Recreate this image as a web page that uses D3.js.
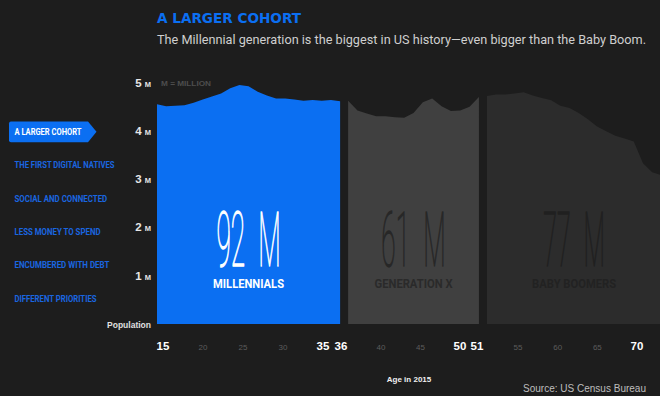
<!DOCTYPE html>
<html>
<head>
<meta charset="utf-8">
<script src="https://cdn.jsdelivr.net/npm/d3@7"></script>
<style>
    body { margin: 0; background: #1d1d1d; }
    svg { display: block; }
</style>
</head>
<body>
<div id="viz"></div>
<script>
// population by single year of age in 2015, millions
const millennials = [4.55, 4.51, 4.52, 4.53, 4.58, 4.65, 4.71, 4.77, 4.88, 4.95, 4.92,
    4.81, 4.73, 4.67, 4.67, 4.65, 4.62, 4.64, 4.62, 4.64, 4.61];          // 15-35
const genX = [4.62, 4.42, 4.36, 4.30, 4.30, 4.28, 4.27, 4.37, 4.59, 4.67, 4.51,
    4.41, 4.42, 4.50, 4.70];                                                // 36-50
const boomers = [4.72, 4.75, 4.75, 4.77, 4.80, 4.73, 4.68, 4.63, 4.52, 4.47,
    4.37, 4.24, 4.09, 3.99, 3.90, 3.84, 3.78, 3.33, 3.14, 3.08];            // 51-70
const firstAges = [15, 36, 51];
const genNames = ["MILLENNIALS", "GENERATION X", "BABY BOOMERS"];
const genTotals = ["92 M", "61 M", "77 M"];

const yTicks = [1, 2, 3, 4, 5];
const xTicks = [15, 20, 25, 30, 35, 36, 40, 45, 50, 51, 55, 60, 65, 70];
const boldTicks = [15, 35, 36, 50, 51, 70];

const navItems = ["A LARGER COHORT", "THE FIRST DIGITAL NATIVES", "SOCIAL AND CONNECTED",
    "LESS MONEY TO SPEND", "ENCUMBERED WITH DEBT", "DIFFERENT PRIORITIES"];

document.addEventListener("DOMContentLoaded", () => {
    const width = 660;
    const height = 396;

    const svg = d3.select('#viz').append('svg')
        .attr('width', width)
        .attr('height', height);

    const fills = ['#0b6ff2', '#404040', '#2c2c2c'];
    const totalColors = ['#ffffff', '#272727', '#202020'];
    const nameColors = ['#ffffff', '#2a2a2a', '#222222'];
    const totalScale = [0.345, 0.345, 0.33];
    const nameWidths = [71, 78, 84];

    const y = d3.scaleLinear().domain([0, 5]).range([324, 82.5]);

    // each age gets an equal slot, generations separated by a small gap
    const slot = 8.72, gap = 8;
    const slotX = d3.scaleLinear().domain([0, 1]).range([157, 157 + slot]);

    let cum = 0;
    const gens = [millennials, genX, boomers].map((values, i) => {
        const g = {
            name: genNames[i],
            total: genTotals[i],
            values: values.map((v, j) => ({ age: firstAges[i] + j, value: v }))
        };
        g.x0 = slotX(cum) + i * gap;
        cum += values.length;
        g.x1 = slotX(cum) + i * gap;
        g.x = d3.scaleLinear()
            .domain([firstAges[i], firstAges[i] + values.length - 1])
            .range([g.x0, g.x1]);
        return g;
    });

    // areas
    gens.forEach((g, i) => {
        const area = d3.area()
            .x(d => g.x(d.age))
            .y0(y(0))
            .y1(d => y(d.value));
        svg.append('path')
            .datum(g.values)
            .attr('d', area)
            .attr('fill', fills[i]);

        const cx = (g.x0 + g.x1) / 2;
        svg.append('text')
            .attr('transform', `translate(${cx},266) scale(${totalScale[i]},1)`)
            .attr('text-anchor', 'middle')
            .attr('font-family', 'Roboto, sans-serif')
            .attr('font-weight', 100)
            .attr('font-size', 76)
            .style('word-spacing', '20px')
            .attr('fill', totalColors[i])
            .attr('stroke', totalColors[i])
            .attr('stroke-width', 1)
            .attr('vector-effect', 'non-scaling-stroke')
            .text(g.total);

        svg.append('text')
            .attr('x', cx)
            .attr('y', 287.5)
            .attr('text-anchor', 'middle')
            .attr('font-family', '"Liberation Sans Narrow", Roboto, sans-serif')
            .attr('font-weight', 'bold')
            .attr('font-size', 12.5)
            .attr('fill', nameColors[i])
            .attr('textLength', nameWidths[i])
            .attr('lengthAdjust', 'spacingAndGlyphs')
            .text(g.name);
    });

    // y axis labels
    const yLabels = svg.selectAll('.ylab')
        .data(yTicks)
        .enter()
        .append('text')
        .attr('class', 'ylab')
        .attr('x', 151)
        .attr('y', d => y(d) + 4)
        .attr('text-anchor', 'end')
        .attr('font-family', '"Liberation Sans", Arial, sans-serif')
        .attr('font-weight', 'bold')
        .attr('fill', '#e6e6e6');
    yLabels.append('tspan').attr('font-size', 11.5).text(d => d);
    yLabels.append('tspan').attr('font-size', 7.5).attr('dx', 3).text('M');

    svg.append('text')
        .attr('x', 161)
        .attr('y', 86)
        .attr('font-family', '"Liberation Sans", Arial, sans-serif')
        .attr('font-weight', 'bold')
        .attr('font-size', 8)
        .attr('fill', '#4d4d4d')
        .attr('textLength', 50)
        .attr('lengthAdjust', 'spacingAndGlyphs')
        .text('M = MILLION');

    svg.append('text')
        .attr('x', 151)
        .attr('y', 327.5)
        .attr('text-anchor', 'end')
        .attr('font-family', '"Liberation Sans", Arial, sans-serif')
        .attr('font-weight', 'bold')
        .attr('font-size', 8.5)
        .attr('fill', '#e0e0e0')
        .attr('textLength', 44)
        .attr('lengthAdjust', 'spacingAndGlyphs')
        .text('Population');

    // x axis labels
    const tickX = d3.scaleLinear()
        .domain([15, 35, 36, 40, 50, 51, 55, 70])
        .range([163, 323, 341, 381, 460, 477, 518, 637]);

    svg.selectAll('.xlab')
        .data(xTicks)
        .enter()
        .append('text')
        .attr('class', 'xlab')
        .attr('x', d => tickX(d))
        .attr('y', 349.5)
        .attr('text-anchor', 'middle')
        .attr('font-family', '"Liberation Sans", Arial, sans-serif')
        .attr('font-weight', d => boldTicks.includes(d) ? 'bold' : 'normal')
        .attr('font-size', d => boldTicks.includes(d) ? 11.5 : 8)
        .attr('fill', d => boldTicks.includes(d) ? '#ffffff' : '#5c5c5c')
        .text(d => d);

    svg.append('text')
        .attr('x', 409)
        .attr('y', 381.5)
        .attr('text-anchor', 'middle')
        .attr('font-family', '"Liberation Sans", Arial, sans-serif')
        .attr('font-weight', 'bold')
        .attr('font-size', 8)
        .attr('fill', '#f0f0f0')
        .text('Age in 2015');

    svg.append('text')
        .attr('x', 646)
        .attr('y', 391.5)
        .attr('text-anchor', 'end')
        .attr('font-family', '"Liberation Sans", Arial, sans-serif')
        .attr('font-size', 10)
        .attr('fill', '#bdbdbd')
        .attr('textLength', 123)
        .attr('lengthAdjust', 'spacingAndGlyphs')
        .text('Source: US Census Bureau');

    // title
    svg.append('text')
        .attr('x', 157)
        .attr('y', 23)
        .attr('font-family', '"DejaVu Sans", sans-serif')
        .attr('font-weight', 'bold')
        .attr('font-size', 13.5)
        .attr('fill', '#0b6ff2')
        .attr('textLength', 144)
        .attr('lengthAdjust', 'spacingAndGlyphs')
        .text('A LARGER COHORT');

    svg.append('text')
        .attr('x', 157)
        .attr('y', 43.5)
        .attr('font-family', 'Roboto, sans-serif')
        .attr('font-size', 13)
        .attr('fill', '#cfcfcf')
        .attr('textLength', 489)
        .attr('lengthAdjust', 'spacingAndGlyphs')
        .text('The Millennial generation is the biggest in US history\u2014even bigger than the Baby Boom.');

    // left navigation
    const navY = d3.scaleLinear().domain([0, navItems.length - 1]).range([131.7, 298.3]);
    const navWidths = [67, 100, 92.7, 86, 95, 82];

    svg.append('path')
        .attr('d', `M11,${navY(0) - 10.3} H88 L96.5,${navY(0)} L88,${navY(0) + 10.5} H11 Q9,${navY(0) + 10.5} 9,${navY(0) + 8.5} V${navY(0) - 8.3} Q9,${navY(0) - 10.3} 11,${navY(0) - 10.3} Z`)
        .attr('fill', '#0b6ff2');

    svg.selectAll('.nav')
        .data(navItems)
        .enter()
        .append('text')
        .attr('class', 'nav')
        .attr('x', 14.5)
        .attr('y', (d, i) => navY(i) + 3.4)
        .attr('font-family', '"Liberation Sans Narrow", Roboto, sans-serif')
        .attr('font-weight', 'bold')
        .attr('font-size', 9.5)
        .attr('fill', (d, i) => i === 0 ? '#ffffff' : '#1a66e0')
        .attr('textLength', (d, i) => navWidths[i])
        .attr('lengthAdjust', 'spacingAndGlyphs')
        .text(d => d);
});
</script>
</body>
</html>
